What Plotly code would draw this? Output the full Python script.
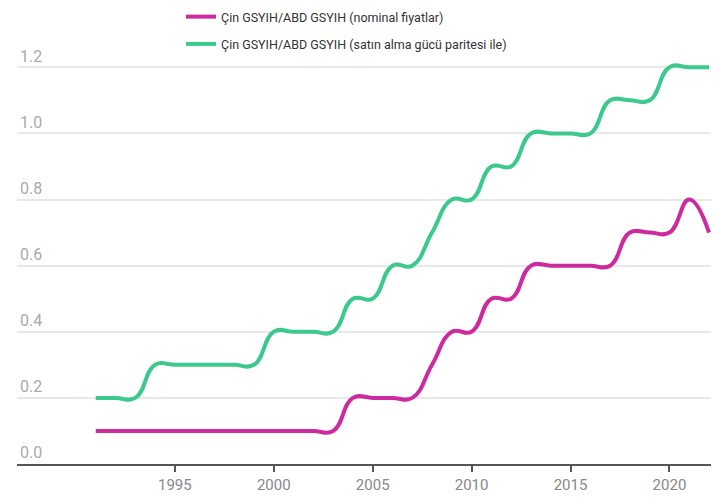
import plotly.graph_objects as go

years = list(range(1991, 2023))
nominal = [0.1, 0.1, 0.1, 0.1, 0.1, 0.1, 0.1, 0.1, 0.1, 0.1,
           0.1, 0.1, 0.1, 0.2, 0.2, 0.2, 0.2, 0.3, 0.4, 0.4,
           0.5, 0.5, 0.6, 0.6, 0.6, 0.6, 0.6, 0.7, 0.7, 0.7,
           0.8, 0.7]
ppp = [0.2, 0.2, 0.2, 0.3, 0.3, 0.3, 0.3, 0.3, 0.3, 0.4,
       0.4, 0.4, 0.4, 0.5, 0.5, 0.6, 0.6, 0.7, 0.8, 0.8,
       0.9, 0.9, 1.0, 1.0, 1.0, 1.0, 1.1, 1.1, 1.1, 1.2,
       1.2, 1.2]
names = ["Çin GSYIH/ABD GSYIH (nominal fiyatlar)",
         "Çin GSYIH/ABD GSYIH (satın alma gücü paritesi ile)"]
colors = ["#cc2a9e", "#3cc98b"]
x_ticks = [1995, 2000, 2005, 2010, 2015, 2020]
y_ticks = [0.0, 0.2, 0.4, 0.6, 0.8, 1.0, 1.2]

# the page body has an 8px margin; size the figure so nothing overflows
W, H = 703, 486
L, R, T, B = 9, 0, 32, 30
plot_h = H - T - B

fig = go.Figure()
for i, (vals, name, col) in enumerate(zip([nominal, ppp], names, colors)):
    fig.add_trace(go.Scatter(
        x=years, y=vals, name=name, mode="lines",
        line=dict(color=col, width=4, shape="spline", smoothing=1.3),
        legendgroup=f"g{i}",
    ))

fig.update_layout(
    width=W, height=H,
    margin=dict(l=L, r=R, t=T, b=B, autoexpand=False),
    paper_bgcolor="white", plot_bgcolor="white",
    font=dict(family="Roboto, 'Noto Sans', sans-serif"),
    showlegend=True,
    legend=dict(
        xref="container", yref="paper",
        x=173 / W, y=1 + (T + 6) / plot_h, xanchor="left", yanchor="top",
        font=dict(size=12.5, color="#333333"),
        tracegroupgap=8, bgcolor="rgba(0,0,0,0)",
    ),
    xaxis=dict(
        range=[1987.02, 2022.1],
        tickmode="array", tickvals=x_ticks, ticktext=[str(t) for t in x_ticks],
        tickangle=0,
        showgrid=False, zeroline=False,
        showline=True, linecolor="#555555", linewidth=2,
        ticks="outside", ticklen=6, tickwidth=2, tickcolor="#555555",
        tickfont=dict(size=15, color="#888888"),
        ticklabelstandoff=0,
    ),
    yaxis=dict(
        range=[0, 1.2825],
        tickmode="array", tickvals=y_ticks, ticktext=[f"{t:.1f}" for t in y_ticks],
        showgrid=True, gridcolor="#e8e8e8", gridwidth=1.5,
        zeroline=False, showline=False,
        ticklabelposition="inside top",
        tickfont=dict(size=16, color="#aaaaaa"),
    ),
)

fig.write_html("out.html")
